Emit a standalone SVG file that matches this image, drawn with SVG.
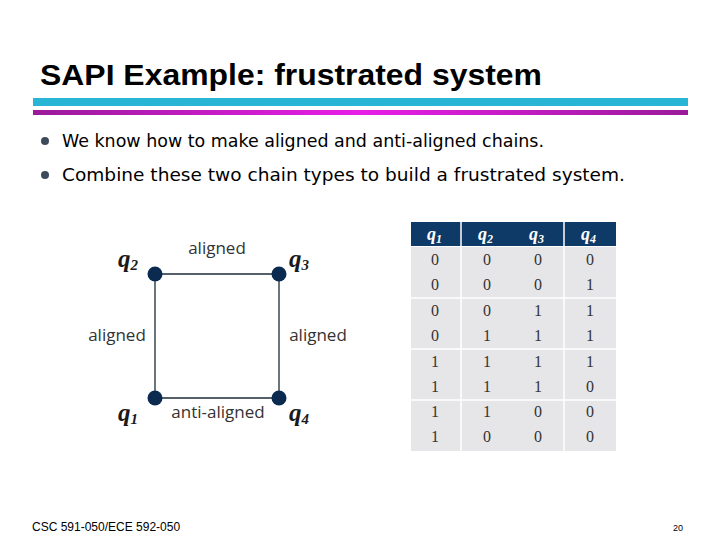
<svg xmlns="http://www.w3.org/2000/svg" width="720" height="540" viewBox="0 0 720 540">
<style>
.b{font-family:"DejaVu Sans",sans-serif;font-size:18px;fill:#000}
.l{font-family:"Open Sans","DejaVu Sans",sans-serif;font-size:17px;fill:#333}
.q{font-family:"Liberation Serif",serif;font-size:25px;font-weight:bold;font-style:italic;fill:#1a1a1a}
.qs{font-size:15px}
.h{font-family:"Liberation Serif",serif;font-size:18px;font-weight:bold;font-style:italic;fill:#fff}
.c{font-family:"Liberation Serif",serif;font-size:16px;fill:#333;text-anchor:middle}
.n{fill:#0b2a4f}
.e{stroke:#1c2b3a;stroke-width:1.3}
</style>
<defs><linearGradient id="g" x1="0" x2="1"><stop offset="0" stop-color="#9a1a9a"/><stop offset="0.5" stop-color="#e81ee8"/><stop offset="1" stop-color="#9a1a9a"/></linearGradient></defs>
<rect width="720" height="540" fill="#fff"/>
<text x="40" y="85" font-family="Liberation Sans,sans-serif" font-size="30" font-weight="bold" fill="#000" textLength="502" lengthAdjust="spacingAndGlyphs">SAPI Example: frustrated system</text>
<rect x="33" y="98" width="655" height="8" fill="#29b5d6"/>
<rect x="33" y="110" width="655" height="5" fill="url(#g)"/>
<circle cx="45" cy="141" r="4" fill="#3d4a5a"/>
<circle cx="45" cy="175" r="4" fill="#3d4a5a"/>
<text class="b" x="62" y="147" textLength="482" lengthAdjust="spacingAndGlyphs">We know how to make aligned and anti-aligned chains.</text>
<text class="b" x="62" y="181" textLength="563" lengthAdjust="spacingAndGlyphs">Combine these two chain types to build a frustrated system.</text>
<g id="connectors">
<line class="e" x1="155" y1="274" x2="279" y2="274"/>
<line class="e" x1="155" y1="274" x2="155" y2="398"/>
<line class="e" x1="279" y1="274" x2="279" y2="398"/>
<line class="e" x1="155" y1="398" x2="279" y2="398" stroke="#888"/>
<text class="l" x="217" y="254" text-anchor="middle">aligned</text>
<text class="l" x="117" y="341" text-anchor="middle">aligned</text>
<text class="l" x="318" y="341" text-anchor="middle">aligned</text>
<text class="l" x="218" y="418" text-anchor="middle">anti-aligned</text>
</g>
<g id="q2"><circle class="n" cx="155" cy="274" r="7.5"/><text class="q" x="118" y="267">q<tspan class="qs" dy="3">2</tspan></text></g>
<g id="q3"><circle class="n" cx="279" cy="274" r="7.5"/><text class="q" x="289" y="267">q<tspan class="qs" dy="3">3</tspan></text></g>
<g id="q1"><circle class="n" cx="155" cy="398" r="7.5"/><text class="q" x="118" y="421">q<tspan class="qs" dy="3">1</tspan></text></g>
<g id="q4"><circle class="n" cx="279" cy="398" r="7.5"/><text class="q" x="289" y="421">q<tspan class="qs" dy="3">4</tspan></text></g>
<g id="table">
<rect x="411" y="222" width="205" height="24" fill="#0d3a66"/>
<rect x="411" y="247" width="205" height="204" fill="#e6e6e8"/>
<g stroke="#fff" stroke-width="1.5">
<line x1="461" y1="222" x2="461" y2="451"/><line x1="564" y1="222" x2="564" y2="451"/>
<line x1="411" y1="298" x2="616" y2="298"/><line x1="411" y1="349" x2="616" y2="349"/><line x1="411" y1="400" x2="616" y2="400"/>
</g>
<text class="h" x="427" y="240">q<tspan font-size="12" dy="3">1</tspan></text>
<text class="h" x="478" y="240">q<tspan font-size="12" dy="3">2</tspan></text>
<text class="h" x="529" y="240">q<tspan font-size="12" dy="3">3</tspan></text>
<text class="h" x="581" y="240">q<tspan font-size="12" dy="3">4</tspan></text>
<g class="c">
<text x="435" y="265">0</text><text x="487" y="265">0</text><text x="538" y="265">0</text><text x="590" y="265">0</text>
<text x="435" y="290">0</text><text x="487" y="290">0</text><text x="538" y="290">0</text><text x="590" y="290">1</text>
<text x="435" y="316">0</text><text x="487" y="316">0</text><text x="538" y="316">1</text><text x="590" y="316">1</text>
<text x="435" y="341">0</text><text x="487" y="341">1</text><text x="538" y="341">1</text><text x="590" y="341">1</text>
<text x="435" y="367">1</text><text x="487" y="367">1</text><text x="538" y="367">1</text><text x="590" y="367">1</text>
<text x="435" y="392">1</text><text x="487" y="392">1</text><text x="538" y="392">1</text><text x="590" y="392">0</text>
<text x="435" y="417">1</text><text x="487" y="417">1</text><text x="538" y="417">0</text><text x="590" y="417">0</text>
<text x="435" y="442">1</text><text x="487" y="442">0</text><text x="538" y="442">0</text><text x="590" y="442">0</text>
</g>
</g>
<text x="32" y="531" font-family="Liberation Sans,sans-serif" font-size="12" fill="#000">CSC 591-050/ECE 592-050</text>
<text x="683" y="531" font-family="Liberation Sans,sans-serif" font-size="9" fill="#000" text-anchor="end">20</text>
</svg>
